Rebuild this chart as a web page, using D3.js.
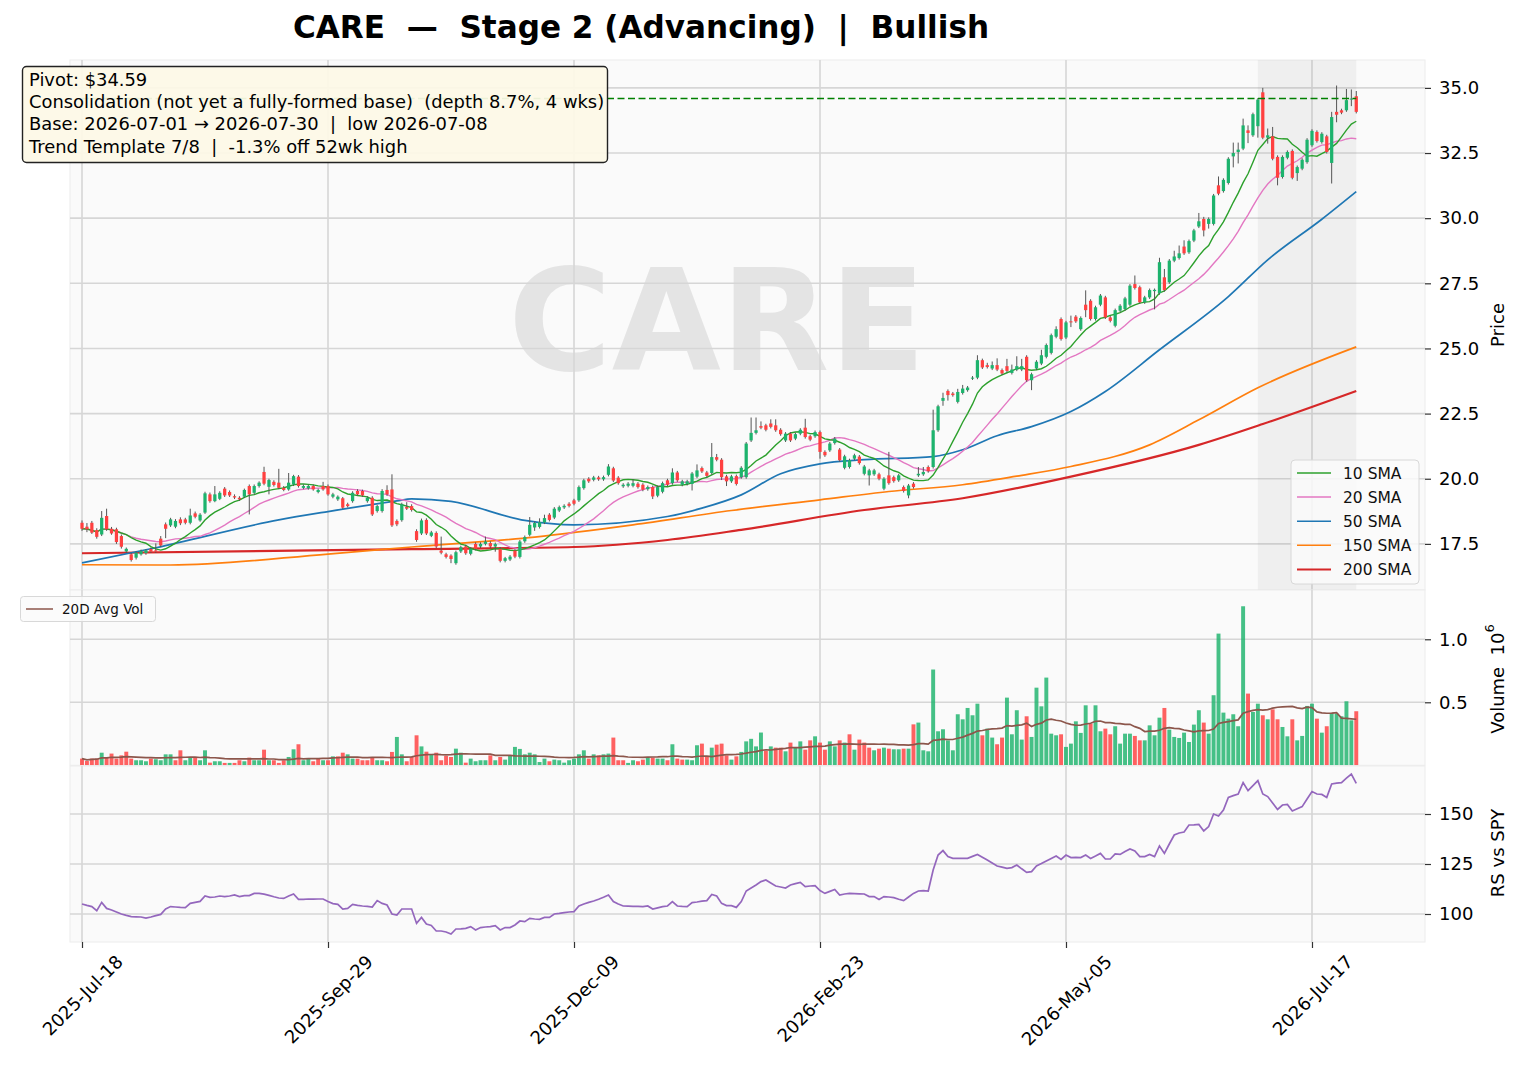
<!DOCTYPE html>
<html><head><meta charset="utf-8">
<script src="https://cdn.jsdelivr.net/npm/d3@7"></script>
<style>body{margin:0;background:#fff;} svg{display:block;font-family:"DejaVu Sans",sans-serif;} text{white-space:pre;}</style>
</head><body><svg id="c" width="1522" height="1072"></svg>
<script>
// ---------- DATA ----------
const ticker = "CARE";
const titleText = "CARE  \u2014  Stage 2 (Advancing)  |  Bullish";
const infoLines = [
  "Pivot: $34.59",
  "Consolidation (not yet a fully-formed base)  (depth 8.7%, 4 wks)",
  "Base: 2026-07-01 \u2192 2026-07-30  |  low 2026-07-08",
  "Trend Template 7/8  |  -1.3% off 52wk high"
];
const pivot = 34.59;
const baseRange = [239, 259];
const xTickIdx = [0, 50, 100, 150, 200, 250];
const xTickLabels = ["2025-Jul-18","2025-Sep-29","2025-Dec-09","2026-Feb-23","2026-May-05","2026-Jul-17"];
const priceTicks = [17.5, 20.0, 22.5, 25.0, 27.5, 30.0, 32.5, 35.0];
const volTicks = [0.5, 1.0];
const rsTicks = [100, 125, 150];

// daily candles: [open, high, low, close]
const ohlc = [
[18.31,18.40,18.00,18.08],[18.16,18.30,17.95,18.06],[18.31,18.38,17.88,17.93],[18.03,18.10,17.70,17.77],[17.86,18.76,17.80,18.50],
[18.57,18.85,18.00,18.06],[18.08,18.15,17.85,17.90],[18.06,18.12,17.50,17.57],[17.80,17.86,17.32,17.39],[17.21,17.36,17.15,17.31],
[17.10,17.16,16.82,16.88],[16.97,17.22,16.90,17.16],[17.10,17.28,17.05,17.22],[17.15,17.30,17.08,17.25],[17.30,17.36,17.15,17.20],
[17.25,17.52,17.15,17.20],[17.70,17.80,17.38,17.44],[18.25,18.32,17.72,18.08],[18.21,18.50,18.15,18.44],[18.16,18.45,18.10,18.38],
[18.44,18.52,18.22,18.29],[18.44,18.50,18.25,18.31],[18.31,18.85,18.25,18.59],[18.67,18.74,18.48,18.54],[18.40,18.68,18.35,18.62],
[18.70,19.50,18.65,19.44],[19.40,19.47,19.08,19.14],[19.14,19.72,19.10,19.40],[19.23,19.52,19.18,19.46],[19.62,19.68,19.30,19.36],
[19.49,19.55,19.30,19.36],[19.33,19.40,19.22,19.28],[19.27,19.33,19.15,19.21],[19.31,19.62,19.26,19.57],[19.72,19.78,18.63,19.40],
[19.46,19.78,19.40,19.72],[19.72,19.90,19.66,19.85],[20.26,20.46,19.75,19.81],[19.69,20.00,19.40,19.95],[19.88,19.94,19.70,19.76],
[19.85,20.38,19.60,19.65],[19.65,19.72,19.52,19.57],[19.59,20.22,19.54,19.85],[19.78,20.15,19.72,20.10],[20.08,20.14,19.66,19.72],
[19.65,19.78,19.60,19.72],[19.63,19.77,19.58,19.72],[19.72,19.78,19.54,19.59],[19.49,19.62,19.44,19.57],[19.72,19.88,19.54,19.59],
[19.72,19.78,19.35,19.40],[19.31,19.46,19.25,19.40],[19.21,19.36,19.15,19.31],[19.25,19.30,18.84,18.89],[19.02,19.08,18.90,18.95],
[19.14,19.52,19.08,19.46],[19.53,19.60,19.34,19.40],[19.53,19.58,19.30,19.36],[19.14,19.33,19.08,19.27],[19.27,19.33,18.57,18.63],
[18.76,19.00,18.70,18.95],[18.76,19.60,18.70,19.53],[19.57,19.75,19.34,19.40],[19.59,20.17,18.15,18.21],[18.38,18.44,18.18,18.25],
[18.41,19.08,18.35,19.02],[18.92,19.10,18.80,18.85],[18.95,19.02,18.74,18.80],[17.99,18.06,17.58,17.65],[17.90,18.47,17.84,18.40],
[18.42,18.48,17.84,17.90],[17.81,18.00,17.76,17.94],[17.92,17.98,17.34,17.40],[17.24,17.78,17.10,17.16],[17.10,17.16,16.94,17.00],
[17.05,17.10,16.76,16.92],[16.76,17.24,16.70,17.18],[17.21,17.43,17.15,17.37],[17.40,17.46,17.08,17.14],[17.12,17.37,17.06,17.31],
[17.50,17.56,17.25,17.31],[17.40,17.56,17.34,17.50],[17.50,17.78,17.44,17.59],[17.53,17.60,17.34,17.40],[17.40,17.55,17.20,17.49],
[17.31,17.38,16.79,16.85],[16.85,17.00,16.79,16.95],[16.90,17.07,16.84,17.01],[17.24,17.30,16.95,17.01],[17.00,17.65,16.94,17.59],
[17.60,17.82,17.54,17.76],[17.85,18.53,17.79,18.23],[18.13,18.36,18.00,18.30],[18.15,18.48,18.09,18.33],[18.32,18.62,18.26,18.49],
[18.62,18.68,18.36,18.42],[18.51,18.91,18.45,18.85],[18.78,18.97,18.72,18.91],[18.90,19.02,18.84,18.96],[19.04,19.10,18.90,18.96],
[19.17,19.23,18.98,19.04],[19.17,19.74,19.11,19.68],[19.64,20.00,19.58,19.94],[20.00,20.06,19.84,19.90],[19.96,20.11,19.90,20.05],
[20.05,20.11,19.92,19.98],[19.98,20.12,19.92,20.06],[20.15,20.56,20.09,20.47],[20.40,20.46,19.87,19.93],[20.04,20.10,19.77,19.83],
[19.71,19.83,19.65,19.77],[19.73,19.87,19.67,19.81],[19.73,19.98,19.67,19.83],[19.81,19.87,19.62,19.68],[19.77,19.83,19.52,19.58],
[19.60,19.74,19.54,19.68],[19.68,19.74,19.22,19.32],[19.35,19.74,19.29,19.68],[19.50,19.89,19.44,19.83],[19.94,20.00,19.71,19.77],
[19.83,20.40,19.77,20.24],[20.24,20.30,19.88,19.94],[19.77,19.96,19.71,19.90],[19.80,19.96,19.74,19.90],[19.80,20.26,19.55,20.20],
[20.08,20.55,20.02,20.32],[20.41,20.47,20.22,20.28],[20.24,20.30,20.05,20.11],[20.22,21.37,20.16,20.83],[20.83,20.95,20.67,20.73],
[20.73,20.79,19.95,20.06],[20.09,20.15,19.72,19.90],[19.90,20.15,19.84,20.09],[20.10,20.16,19.74,19.80],[20.06,20.48,20.00,20.42],
[20.06,21.41,20.00,21.35],[21.47,22.35,21.41,21.76],[21.76,22.35,21.70,21.86],[22.02,22.20,21.90,21.96],[22.05,22.11,21.82,21.88],
[22.12,22.28,21.93,21.99],[22.05,22.28,21.80,21.86],[21.88,21.94,21.65,21.71],[21.47,21.79,21.41,21.73],[21.73,21.79,21.41,21.47],
[21.54,21.77,21.48,21.71],[21.73,21.94,21.67,21.88],[21.96,22.30,21.54,21.60],[21.63,21.69,21.44,21.50],[21.63,21.85,21.57,21.79],
[21.79,21.85,20.77,21.03],[21.03,21.09,20.84,20.90],[21.09,21.41,21.03,21.35],[21.37,21.60,21.31,21.54],[21.12,21.18,20.65,20.71],
[20.42,20.92,20.36,20.86],[20.45,20.77,20.39,20.71],[20.77,20.96,20.71,20.90],[20.85,20.91,20.54,20.60],[20.19,20.53,20.13,20.47],
[20.13,20.38,19.74,20.32],[20.17,20.38,20.11,20.32],[20.17,20.23,19.94,20.00],[19.62,20.06,19.56,20.00],[20.13,21.03,19.77,19.83],
[20.06,20.12,19.85,19.91],[19.94,20.19,19.88,20.13],[19.68,19.74,19.47,19.53],[19.36,19.80,19.25,19.74],[19.81,19.87,19.62,19.68],
[20.13,20.45,20.07,20.19],[20.17,20.45,20.11,20.26],[20.45,20.51,20.23,20.29],[20.45,22.65,20.39,21.86],[21.86,22.84,21.80,22.78],
[22.99,23.30,22.80,23.10],[23.37,23.43,23.00,23.21],[23.27,23.33,23.15,23.21],[22.95,23.45,22.89,23.33],[23.29,23.60,23.23,23.46],
[23.40,23.56,23.34,23.50],[23.85,23.94,23.79,23.88],[23.88,24.74,23.82,24.55],[24.55,24.61,24.21,24.27],[24.36,24.45,24.23,24.29],
[24.23,24.50,24.17,24.36],[24.36,24.62,24.13,24.19],[24.17,24.23,23.98,24.04],[24.32,24.60,24.08,24.14],[24.06,24.38,24.00,24.19],
[24.19,24.70,24.13,24.32],[24.19,24.60,24.13,24.32],[24.68,24.74,23.72,23.78],[23.78,24.07,23.40,24.01],[24.23,24.55,24.17,24.49],
[24.42,24.95,24.36,24.74],[24.68,25.19,24.62,25.13],[24.83,25.57,24.77,25.51],[25.45,25.85,25.39,25.74],[26.13,26.19,25.30,25.36],
[25.42,26.06,25.36,26.00],[26.04,26.26,25.82,26.00],[26.22,26.28,25.98,26.04],[25.74,26.23,25.68,26.17],[26.68,27.23,26.20,26.47],
[26.83,26.89,26.07,26.13],[26.13,26.64,26.07,26.58],[26.68,27.09,26.62,27.03],[26.96,27.02,26.13,26.19],[26.19,26.25,26.00,26.06],
[25.87,26.53,25.81,26.47],[26.45,26.70,26.39,26.64],[26.51,26.98,26.45,26.92],[26.68,27.47,26.62,27.41],[27.47,27.80,27.26,27.32],
[27.35,27.41,26.71,26.77],[26.77,27.02,26.71,26.96],[26.96,27.30,26.90,27.24],[27.20,27.30,26.50,27.25],[27.12,28.48,27.06,28.31],
[27.73,28.05,27.18,27.24],[27.54,28.43,27.48,28.37],[28.37,28.75,28.31,28.53],[28.47,28.95,28.41,28.65],[28.91,29.15,28.59,28.65],
[28.69,29.18,28.63,29.12],[29.14,29.59,29.08,29.53],[29.68,30.20,29.62,29.88],[29.97,30.05,29.30,29.53],[29.78,30.03,29.60,29.97],
[29.78,30.93,29.72,30.87],[31.26,31.60,30.88,30.94],[31.04,31.53,30.98,31.47],[31.35,32.34,31.29,32.28],[32.37,32.90,31.95,32.50],
[32.54,32.90,32.10,32.63],[32.67,33.82,32.61,33.56],[33.37,33.56,32.88,33.27],[33.18,34.05,33.12,33.99],[33.53,34.61,33.09,34.55],
[34.83,35.00,33.03,33.09],[33.09,33.44,32.86,33.18],[33.14,33.50,32.22,32.28],[32.35,32.41,31.26,31.55],[31.58,32.41,31.52,32.35],
[32.32,32.60,32.26,32.54],[32.58,32.64,31.49,31.55],[31.73,32.02,31.43,31.96],[31.90,32.30,31.84,32.24],[32.15,33.07,32.09,33.01],
[32.80,33.41,32.74,33.35],[33.31,33.37,32.90,32.96],[32.92,33.30,32.86,33.24],[33.14,33.20,32.48,32.54],[32.12,34.08,31.33,33.88],
[34.08,35.09,33.68,33.97],[34.14,34.20,33.99,34.05],[34.14,34.96,34.08,34.53],[34.55,34.94,34.30,34.59],[34.68,34.88,34.02,34.08]
];

// daily volume, millions of shares
const volume = [
.053,.034,.053,.053,.100,.061,.093,.053,.079,.108, .053,.040,.040,.032,.053,.048,.040,.087,.087,.040,
.119,.040,.061,.061,.040,.119,.021,.032,.032,.019, .019,.019,.040,.032,.061,.040,.040,.124,.040,.040,
.019,.040,.066,.127,.167,.040,.053,.032,.053,.040, .040,.071,.071,.100,.087,.053,.053,.040,.040,.058,
.040,.040,.032,.106,.225,.087,.032,.066,.238,.150, .108,.087,.100,.040,.074,.066,.132,.100,.021,.053,
.032,.040,.040,.079,.040,.066,.045,.074,.146,.130, .087,.100,.087,.026,.053,.032,.045,.040,.021,.040,
.053,.087,.119,.053,.087,.079,.087,.093,.220,.040, .040,.019,.040,.032,.045,.061,.061,.053,.053,.040,
.167,.053,.045,.045,.040,.159,.172,.066,.140,.164, .172,.079,.045,.071,.106,.190,.210,.150,.260,.114,
.150,.140,.140,.111,.180,.140,.190,.124,.198,.230, .180,.124,.190,.150,.198,.180,.246,.124,.204,.180,
.140,.119,.132,.140,.132,.127,.127,.132,.132,.325, .339,.119,.111,.760,.270,.286,.198,.119,.405,.365,
.455,.397,.489,.238,.291,.220,.167,.220,.537,.246, .437,.204,.389,.225,.616,.468,.696,.251,.238,.246,
.146,.172,.349,.257,.476,.331,.476,.270,.291,.246, .310,.172,.251,.251,.233,.198,.198,.317,.238,.378,
.455,.283,.225,.217,.259,.185,.323,.437,.339,.251, .556,1.045,.418,.370,.405,.310,1.262,.569,.423,.489,
.397,.365,.444,.365,.304,.230,.365,.198,.233,.471, .489,.370,.259,.310,.415,.410,.389,.508,.357,.429
];

// relative strength vs SPY (rebased)
const rsVsSpy = [
105.0,104.3,103.7,101.7,105.8,102.8,102.0,101.0,100.0,99.3, 98.7,98.6,98.5,97.9,98.5,99.2,99.8,102.5,103.7,103.5,
103.3,103.2,105.3,105.8,106.3,109.0,108.3,108.5,109.0,108.7, 109.0,109.5,108.7,109.2,109.2,110.3,110.3,109.9,109.3,108.6,
108.0,107.8,109.0,110.0,107.3,107.3,107.5,107.4,107.5,107.5, 106.2,105.2,104.8,102.5,102.8,104.8,104.3,104.0,103.8,103.5,
106.7,105.3,104.5,100.0,99.5,102.5,102.5,102.5,95.3,98.3, 95.0,94.3,91.5,91.5,91.0,90.0,92.5,92.6,92.8,93.7,
92.0,93.2,93.5,93.7,94.2,92.0,93.2,93.2,94.5,96.5, 96.2,97.8,97.5,97.3,98.3,98.3,100.0,100.3,100.7,101.0,
101.2,104.0,105.0,105.8,106.5,107.4,108.4,109.5,106.2,105.0, 104.0,103.9,103.8,103.8,103.7,104.0,102.5,103.1,103.7,104.0,
106.2,104.0,103.8,103.7,105.7,106.0,106.4,106.7,109.8,109.0, 105.3,104.2,104.2,103.3,106.2,111.5,113.0,114.5,116.2,117.0,
115.5,114.0,113.5,113.0,114.5,115.2,115.8,113.7,114.0,114.2, 111.7,110.3,111.3,112.3,109.5,110.0,110.3,110.2,110.1,110.0,
108.7,108.7,107.3,108.7,108.5,108.2,107.4,106.7,108.5,110.3, 111.5,111.7,111.5,122.0,129.5,131.7,128.7,127.8,127.8,127.8,
127.8,128.8,129.8,128.4,127.0,125.5,124.0,123.4,122.8,123.2, 124.5,122.6,120.8,121.2,124.0,125.2,126.5,127.8,129.0,127.3,
129.5,128.2,128.3,128.2,129.5,127.8,129.0,130.3,127.5,127.5, 130.0,129.8,131.2,132.5,131.5,128.7,128.7,129.8,128.7,134.0,
130.3,135.0,139.5,140.5,141.0,144.5,144.6,144.8,141.5,143.7, 150.0,149.0,152.0,158.3,159.2,160.0,165.7,161.7,164.2,166.7,
160.0,158.7,155.5,152.3,154.5,154.8,151.5,152.6,153.7,157.5, 161.2,160.0,159.8,158.3,165.0,165.4,165.7,167.9,170.0,165.3
];

// long moving averages: [day index, value]
const sma50 = [[0,16.77],[15,17.35],[40,18.42],[50,18.74],[64,19.15],[67,19.23],[75,19.13],[90,18.40],[100,18.23],
  [119,18.55],[126,18.87],[134,19.38],[142,20.19],[150,20.57],[159,20.73],[173,20.85],[179,21.11],[186,21.65],
  [193,22.00],[201,22.58],[208,23.35],[219,24.95],[233,26.99],[241,28.40],[252,29.96],[259,31.02]];
const sma150 = [[0,16.70],[18,16.69],[50,17.11],[67,17.38],[92,17.76],[112,18.23],[132,18.78],[150,19.19],
  [164,19.51],[179,19.77],[190,20.10],[201,20.47],[217,21.30],[227,22.26],[239,23.49],[259,25.06]];
const sma200 = [[0,17.14],[67,17.30],[100,17.38],[119,17.65],[134,18.04],[159,18.80],[179,19.25],[201,20.08],
  [227,21.30],[240,22.10],[259,23.37]];

const colors = {up:"#1db36d", down:"#ff4040", wick:"#555555", sma10:"#2ca02c", sma20:"#e377c2",
  sma50:"#1f77b4", sma150:"#ff7f0e", sma200:"#d62728", avgVol:"#8c564b", rs:"#9467bd", pivot:"#008000"};

// ---------- DERIVED ----------
const closes = ohlc.map(d => d[3]);
function rolling(arr, n) {
  return arr.map((_, i) => { const s = arr.slice(Math.max(0, i - n + 1), i + 1); return d3.mean(s); });
}
const sma10 = rolling(closes, 10);
const sma20 = rolling(closes, 20);
const avgVol20 = rolling(volume, 20);

// ---------- LAYOUT ----------
const svg = d3.select("#c");
const X0 = 70, X1 = 1425;
const P = {top:60, bot:590}, V = {top:590, bot:765.3}, R = {top:766, bot:942};
const x = d3.scaleLinear().domain([-2.44, 272.97]).range([X0, X1]);
const yP = d3.scaleLinear().domain([15.73, 36.07]).range([P.bot, P.top]);
const yV = d3.scaleLinear().domain([0, 1.391]).range([V.bot, V.top]);
const yR = d3.scaleLinear().domain([86, 174]).range([R.bot, R.top]);
const dayW = x(1) - x(0);

svg.append("rect").attr("width",1522).attr("height",1072).attr("fill","#fff");
const defs = svg.append("defs");
function panel(name, p) {
  defs.append("clipPath").attr("id","clip-"+name).append("rect")
    .attr("x",X0).attr("y",p.top).attr("width",X1-X0).attr("height",p.bot-p.top);
  svg.append("rect").attr("x",X0).attr("y",p.top).attr("width",X1-X0).attr("height",p.bot-p.top)
    .attr("fill","#fafafa").attr("stroke","#ececec").attr("stroke-width",1);
  return svg.append("g").attr("clip-path","url(#clip-"+name+")");
}
function grid(g, p, yScale, ticks) {
  g.selectAll(null).data(ticks).enter().append("line")
    .attr("x1",X0).attr("x2",X1).attr("y1",d=>yScale(d)).attr("y2",d=>yScale(d))
    .attr("stroke","#d6d6d6").attr("stroke-width",1.6);
  g.selectAll(null).data(xTickIdx).enter().append("line")
    .attr("x1",d=>x(d)).attr("x2",d=>x(d)).attr("y1",p.top).attr("y2",p.bot)
    .attr("stroke","#d6d6d6").attr("stroke-width",1.6);
}

// ---- Price panel ----
const gp = panel("p", P);
gp.append("text").attr("x",717).attr("y",P.top+310).attr("text-anchor","middle")
  .attr("font-size",141).attr("font-weight","bold").attr("fill","#e4e4e4").text(ticker);
grid(gp, P, yP, priceTicks);
gp.append("rect").attr("x",x(baseRange[0])).attr("y",P.top).attr("width",x(baseRange[1])-x(baseRange[0]))
  .attr("height",P.bot-P.top).attr("fill","#808080").attr("opacity",0.09);

const lineIdx = d3.line().x((d,i)=>x(i)).y(d=>yP(d));
const linePts = d3.line().x(d=>x(d[0])).y(d=>yP(d[1])).curve(d3.curveMonotoneX);
gp.append("path").attr("d",linePts(sma200)).attr("fill","none").attr("stroke",colors.sma200).attr("stroke-width",2.2);
gp.append("path").attr("d",linePts(sma150)).attr("fill","none").attr("stroke",colors.sma150).attr("stroke-width",1.7);
gp.append("path").attr("d",linePts(sma50)).attr("fill","none").attr("stroke",colors.sma50).attr("stroke-width",1.7);
gp.append("path").attr("d",lineIdx(sma20)).attr("fill","none").attr("stroke",colors.sma20).attr("stroke-width",1.4);
gp.append("path").attr("d",lineIdx(sma10)).attr("fill","none").attr("stroke",colors.sma10).attr("stroke-width",1.4);

const candles = gp.selectAll("g.c").data(ohlc).enter().append("g");
candles.append("line").attr("x1",(d,i)=>x(i)).attr("x2",(d,i)=>x(i))
  .attr("y1",d=>yP(d[1])).attr("y2",d=>yP(d[2])).attr("stroke",colors.wick).attr("stroke-width",1);
candles.append("rect").attr("x",(d,i)=>x(i)-dayW*0.33).attr("width",dayW*0.66)
  .attr("y",d=>yP(Math.max(d[0],d[3])))
  .attr("height",d=>Math.max(1,Math.abs(yP(d[0])-yP(d[3]))))
  .attr("fill",d=>d[3]>=d[0]?colors.up:colors.down);

gp.append("line").attr("x1",x(0)).attr("x2",x(ohlc.length-1)).attr("y1",yP(pivot)).attr("y2",yP(pivot))
  .attr("stroke",colors.pivot).attr("stroke-width",1.6).attr("stroke-dasharray","7,3.5");

// legend
const legItems = [["10 SMA",colors.sma10,1.5],["20 SMA",colors.sma20,1.5],["50 SMA",colors.sma50,1.5],["150 SMA",colors.sma150,1.5],["200 SMA",colors.sma200,2]];
const lg = svg.append("g");
lg.append("rect").attr("x",1291).attr("y",460).attr("width",128).attr("height",124).attr("rx",4)
  .attr("fill","#fafafa").attr("fill-opacity",0.85).attr("stroke","#d8d8d8").attr("stroke-width",1);
legItems.forEach((it,k)=>{
  const yy = 473 + k*24.1;
  lg.append("line").attr("x1",1297).attr("x2",1331).attr("y1",yy).attr("y2",yy).attr("stroke",it[1]).attr("stroke-width",it[2]);
  lg.append("text").attr("x",1343).attr("y",yy).attr("dy","0.36em").attr("font-size",15.5).attr("fill","#111").text(it[0]);
});

// info box
const ib = svg.append("g");
ib.append("rect").attr("x",22.5).attr("y",66.5).attr("width",585).attr("height",96).attr("rx",4)
  .attr("fill","#fdf9e6").attr("fill-opacity",0.93).attr("stroke","#222").attr("stroke-width",1.4);
infoLines.forEach((t,k)=>{
  ib.append("text").attr("x",29).attr("y",85.5+k*22.4).attr("font-size",17.9).attr("fill","#000").text(t);
});

// title
svg.append("text").attr("x",641).attr("y",38).attr("text-anchor","middle").attr("font-size",31.1)
  .attr("font-weight","bold").attr("fill","#000").text(titleText);

// ---- Volume panel ----
const gv = panel("v", V);
grid(gv, V, yV, volTicks);
gv.selectAll("rect.vb").data(volume).enter().append("rect")
  .attr("x",(d,i)=>x(i)-dayW*0.4).attr("width",dayW*0.8)
  .attr("y",d=>yV(d)).attr("height",d=>yV(0)-yV(d))
  .attr("fill",(d,i)=>{ const up = i===0 ? closes[0]>=ohlc[0][0] : closes[i]>=closes[i-1]; return up?colors.up:colors.down; })
  .attr("fill-opacity",0.82);
gv.append("path").attr("d",d3.line().x((d,i)=>x(i)).y(d=>yV(d))(avgVol20)).attr("fill","none")
  .attr("stroke",colors.avgVol).attr("stroke-width",1.7);
const vl = svg.append("g");
vl.append("rect").attr("x",20.5).attr("y",596.5).attr("width",135).attr("height",25).attr("rx",3)
  .attr("fill","#fafafa").attr("fill-opacity",0.85).attr("stroke","#d8d8d8");
vl.append("line").attr("x1",26).attr("x2",53).attr("y1",609).attr("y2",609).attr("stroke",colors.avgVol).attr("stroke-width",1.5);
vl.append("text").attr("x",62).attr("y",609).attr("dy","0.36em").attr("font-size",13.5).attr("fill","#111").text("20D Avg Vol");

// ---- RS panel ----
const gr = panel("r", R);
grid(gr, R, yR, rsTicks);
gr.append("path").attr("d",d3.line().x((d,i)=>x(i)).y(d=>yR(d))(rsVsSpy)).attr("fill","none")
  .attr("stroke",colors.rs).attr("stroke-width",1.7);

// ---- Axes ----
function styleAxis(g) {
  g.select(".domain").remove();
  g.selectAll(".tick line").attr("stroke","#333").attr("stroke-width",1.2);
  g.selectAll(".tick text").attr("font-size",18).attr("fill","#000").attr("font-family","DejaVu Sans");
}
svg.append("g").attr("transform",`translate(${X1},0)`)
  .call(d3.axisRight(yP).tickValues(priceTicks).tickFormat(d3.format(".1f")).tickSize(6).tickPadding(8)).call(styleAxis);
svg.append("g").attr("transform",`translate(${X1},0)`)
  .call(d3.axisRight(yV).tickValues(volTicks).tickFormat(d3.format(".1f")).tickSize(6).tickPadding(8)).call(styleAxis);
svg.append("g").attr("transform",`translate(${X1},0)`)
  .call(d3.axisRight(yR).tickValues(rsTicks).tickFormat(d3.format("d")).tickSize(6).tickPadding(8)).call(styleAxis);
const xa = svg.append("g").attr("transform",`translate(0,${R.bot})`)
  .call(d3.axisBottom(x).tickValues(xTickIdx).tickFormat((d,i)=>xTickLabels[i]).tickSize(6)).call(styleAxis);
xa.selectAll(".tick text").each(function(){
  const t = d3.select(this);
  t.attr("y",0).attr("dy",null).attr("text-anchor","middle").attr("dominant-baseline","central");
  const L = this.getComputedTextLength();
  const h = 18*1.16;
  const half = (L + h) * Math.SQRT1_2 / 2;
  t.attr("transform",`translate(0,${9 + half}) rotate(-45)`);
});

// y labels
function ylabel(txt, cy) {
  return svg.append("text").attr("transform",`translate(1497,${cy}) rotate(-90)`).attr("text-anchor","middle")
    .attr("dominant-baseline","central").attr("font-size",18).attr("fill","#000").text(txt);
}
ylabel("Price", 325);
const vlab = svg.append("text").attr("transform",`translate(1497,679) rotate(-90)`).attr("text-anchor","middle")
  .attr("dominant-baseline","central").attr("font-size",18).attr("fill","#000");
vlab.append("tspan").text("Volume  10");
vlab.append("tspan").attr("baseline-shift","super").attr("font-size",13).text("6");
ylabel("RS vs SPY", 853);
</script></body></html>
